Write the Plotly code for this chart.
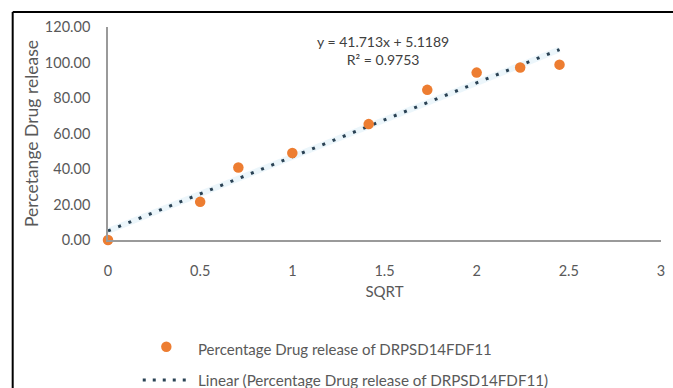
import plotly.graph_objects as go

# Square-root-of-time release data
sqrt_time = [0, 0.5, 0.7071, 1.0, 1.4142, 1.7321, 2.0, 2.2361, 2.4495]
release_pct = [0, 21.5, 40.8, 49.0, 65.3, 84.6, 94.3, 97.2, 98.8]

# Linear trendline stated on the chart
slope = 41.713
intercept = 5.1189
r_squared = 0.9753

series_name = "Percentage Drug release of DRPSD14FDF11"
trend_name = "Linear (Percentage Drug release of DRPSD14FDF11)"

x_ticks = [0, 0.5, 1, 1.5, 2, 2.5, 3]
y_ticks = [0, 20, 40, 60, 80, 100, 120]

W, H = 673, 388
L, R, T, B = 108, 665, 27, 240  # plot area in pixels


def px(xp):
    return (xp - L) / (R - L)


def py(yp):
    return (B - yp) / (B - T)


FONT = "Lato"
GREY = "#595959"
ORANGE = "#ED7D31"
TREND = "#2A4254"

trend_x = [0, sqrt_time[-1]]
trend_y = [intercept + slope * v for v in trend_x]

fig = go.Figure()

# faint halo under the dotted trendline
fig.add_trace(go.Scatter(
    x=trend_x, y=trend_y, mode="lines",
    line=dict(color="rgba(200,228,243,0.35)", width=6),
    hoverinfo="skip", showlegend=False,
))
fig.add_trace(go.Scatter(
    x=trend_x, y=trend_y, mode="lines", name=trend_name,
    line=dict(color=TREND, width=3, dash="3px,8px"),
    showlegend=False,
))
fig.add_trace(go.Scatter(
    x=sqrt_time, y=release_pct, mode="markers", name=series_name,
    marker=dict(color=ORANGE, size=10.5, line=dict(width=0)),
    showlegend=False, cliponaxis=False,
))

fig.update_xaxes(
    range=[0, 3], tickvals=x_ticks, ticktext=[f"{v:g}" for v in x_ticks],
    showgrid=False, zeroline=False, showline=True, linecolor="#9a9a9a", linewidth=1.5,
    ticks="", ticklabelstandoff=17,
    tickfont=dict(family=FONT, size=14.5, color=GREY),
    title=dict(text="SQRT", font=dict(family=FONT, size=15, color=GREY), standoff=8),
)
fig.update_yaxes(
    range=[0, 120], tickvals=y_ticks, ticktext=[f"{v:.2f}" for v in y_ticks],
    showgrid=False, zeroline=False, showline=True, linecolor="#9a9a9a", linewidth=1.5,
    ticks="", ticklabelstandoff=13,
    tickfont=dict(family=FONT, size=14.5, color=GREY),
    title=dict(text="Percetange Drug release", font=dict(family=FONT, size=17.5, color=GREY), standoff=2),
)

shapes = [
    # outer frame (top and left edges)
    dict(type="line", xref="paper", yref="paper", x0=px(12), x1=px(W + 5), y0=py(12), y1=py(12),
         line=dict(color="black", width=2)),
    dict(type="line", xref="paper", yref="paper", x0=px(12), x1=px(12), y0=py(12), y1=py(H + 5),
         line=dict(color="black", width=2)),
    # legend symbols
    dict(type="circle", xref="paper", yref="paper", x0=px(161.5), x1=px(172), y0=py(341.5), y1=py(352),
         fillcolor=ORANGE, line=dict(width=0)),
    dict(type="line", xref="paper", yref="paper", x0=px(143), x1=px(191), y0=py(380), y1=py(380),
         line=dict(color=TREND, width=3, dash="3px,7px")),
]

annotations = [
    dict(text=f"y = {slope}x + {intercept}<br>R² = {r_squared}", xref="paper", yref="paper",
         x=px(385), y=py(50), xanchor="center", yanchor="middle", showarrow=False, align="center",
         font=dict(family=FONT, size=14, color="#404040")),
    dict(text=series_name, xref="paper", yref="paper", x=px(197), y=py(349),
         xanchor="left", yanchor="middle", showarrow=False,
         font=dict(family=FONT, size=15, color=GREY)),
    dict(text=trend_name, xref="paper", yref="paper", x=px(197), y=py(380),
         xanchor="left", yanchor="middle", showarrow=False,
         font=dict(family=FONT, size=15.2, color=GREY)),
]

fig.update_layout(
    width=W, height=H,
    margin=dict(l=L, r=W - R, t=T, b=H - B, pad=0),
    paper_bgcolor="white", plot_bgcolor="white",
    shapes=shapes, annotations=annotations,
    showlegend=False,
)

fig.write_html("out.html")
